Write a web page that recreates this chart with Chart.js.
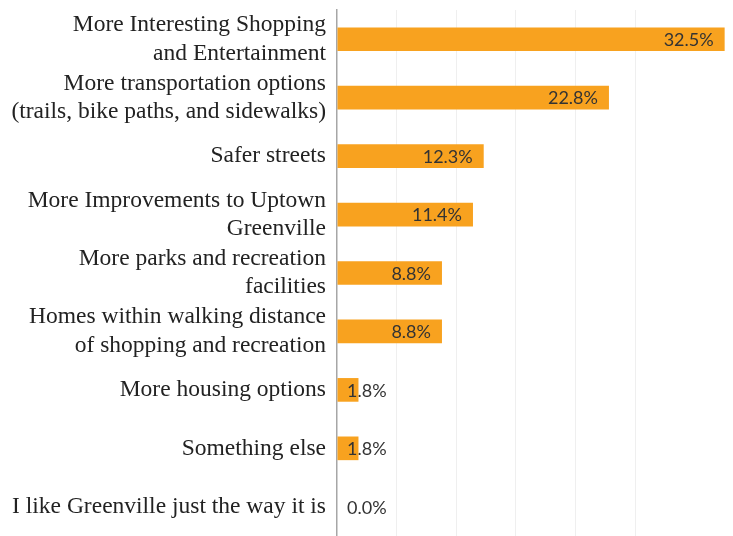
<!DOCTYPE html>
<html>
<head>
<meta charset="utf-8">
<script src="https://cdn.jsdelivr.net/npm/chart.js@4/dist/chart.umd.min.js"></script>
<style>
html,body{margin:0;padding:0;background:#fff;}
#wrap{width:733px;height:536px;position:relative;}
</style>
</head>
<body>
<div id="wrap"><canvas id="c"></canvas></div>
<script>
const categories = [
  ["More Interesting Shopping", "and Entertainment"],
  ["More transportation options", "(trails, bike paths, and sidewalks)"],
  "Safer streets",
  ["More Improvements to Uptown", "Greenville"],
  ["More parks and recreation", "facilities"],
  ["Homes within walking distance", "of shopping and recreation"],
  "More housing options",
  "Something else",
  "I like Greenville just the way it is"
];
const values = [32.5, 22.8, 12.3, 11.4, 8.8, 8.8, 1.8, 1.8, 0.0];
const valueLabels = ["32.5%", "22.8%", "12.3%", "11.4%", "8.8%", "8.8%", "1.8%", "1.8%", "0.0%"];

const labelPlugin = {
  id: 'barLabels',
  afterDatasetsDraw(chart) {
    const ctx = chart.ctx;
    const meta = chart.getDatasetMeta(0);
    const xScale = chart.scales.x;
    const base = xScale.getPixelForValue(0);
    ctx.save();
    ctx.font = '18px Lato';
    ctx.fillStyle = '#333333';
    ctx.textBaseline = 'middle';
    meta.data.forEach((bar, i) => {
      const txt = valueLabels[i];
      const w = ctx.measureText(txt).width;
      const right = bar.x - 11;
      if (right - w < base + 10) {
        ctx.textAlign = 'left';
        ctx.fillText(txt, base + 10, bar.y + 1);
      } else {
        ctx.textAlign = 'right';
        ctx.fillText(txt, right, bar.y + 1);
      }
    });
    ctx.restore();
  }
};

new Chart(document.getElementById('c'), {
  type: 'bar',
  data: {
    labels: categories,
    datasets: [{
      data: values,
      backgroundColor: '#F8A21F',
      borderWidth: 0,
      categoryPercentage: 1.0,
      barPercentage: 0.405
    }]
  },
  options: {
    indexAxis: 'y',
    responsive: true,
    maintainAspectRatio: false,
    animation: false,
    layout: { padding: { top: 10, bottom: 0, left: 0, right: 0 } },
    plugins: { legend: { display: false }, tooltip: { enabled: false } },
    scales: {
      x: {
        min: 0,
        max: 33.2,
        afterFit: (s) => { s.height = 0; s.paddingLeft = 0; s.paddingRight = 0; },
        ticks: { display: false, stepSize: 5 },
        grid: {
          drawTicks: false,
          color: (c) => (c.tick && c.tick.value % 5 === 0 && c.tick.value > 0) ? '#EFEFEF' : 'rgba(0,0,0,0)',
          lineWidth: 1
        },
        border: { display: false }
      },
      y: {
        afterFit: (s) => { s.width = 337; s.paddingTop = 0; s.paddingBottom = 0; },
        ticks: {
          autoSkip: false,
          font: { family: 'Liberation Serif', size: 23.5, lineHeight: 1.21 },
          color: '#222222',
          padding: 11
        },
        grid: { display: false, drawTicks: false },
        border: { display: true, color: '#A6A6A6', width: 1.5 }
      }
    }
  },
  plugins: [labelPlugin]
});
</script>
</body>
</html>
